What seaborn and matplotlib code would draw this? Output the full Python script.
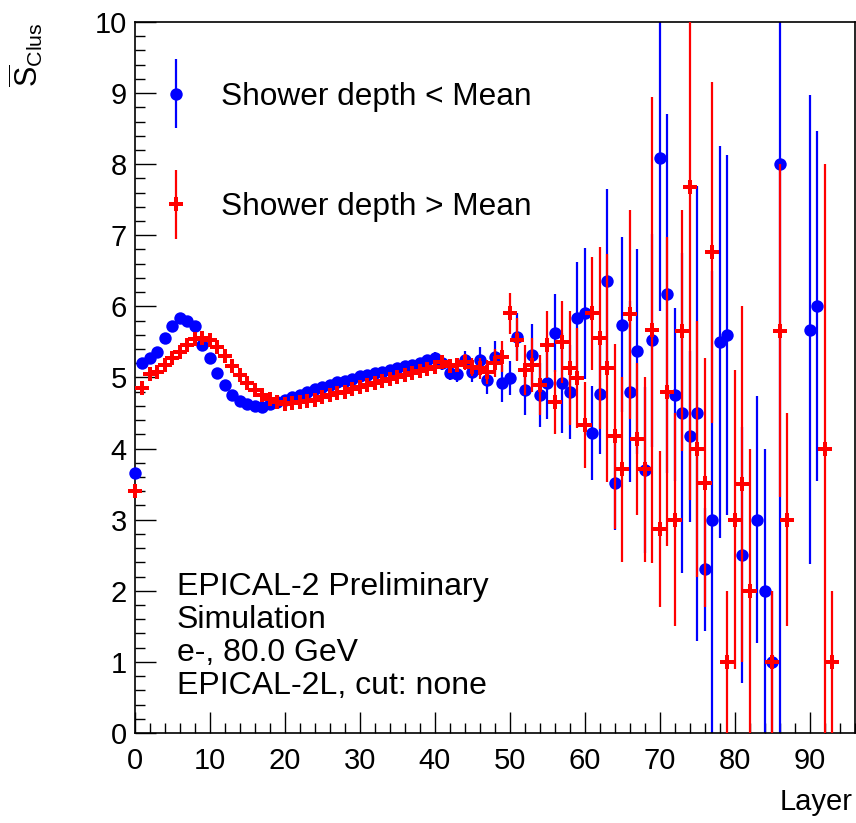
import numpy as np
import pandas as pd
import matplotlib
matplotlib.use("Agg")
import matplotlib.pyplot as plt
import seaborn as sns
from matplotlib.ticker import MultipleLocator
from matplotlib.legend_handler import HandlerErrorbar
from matplotlib.container import ErrorbarContainer

# ---- data: mean cluster size per layer ----
layers_lo = list(range(0, 80)) + [81, 83, 84, 85, 86, 90, 91]
mean_lo = [3.65, 5.20, 5.27, 5.36, 5.55, 5.72, 5.84, 5.80, 5.72, 5.46,
           5.27, 5.06, 4.90, 4.76, 4.67, 4.62, 4.60, 4.59, 4.62, 4.66,
           4.69, 4.72, 4.76, 4.80, 4.84, 4.87, 4.90, 4.93, 4.95, 4.98,
           5.02, 5.04, 5.06, 5.08, 5.10, 5.14, 5.16, 5.18, 5.20, 5.25,
           5.28, 5.20, 5.06, 5.05, 5.25, 5.08, 5.25, 4.97, 5.29, 4.92,
           4.99, 5.57, 4.82, 5.32, 4.75, 4.92, 5.62, 4.92, 4.80, 5.83,
           5.90, 4.22, 4.77, 6.35, 3.52, 5.74, 4.80, 5.37, 3.70, 5.52,
           8.08, 6.18, 4.76, 4.50, 4.17, 4.50, 2.30, 3.00, 5.50, 5.60,
           2.50, 3.00, 2.00, 1.00, 8.00, 5.67, 6.00]
err_lo = [0.02] * 30 + [0.03, 0.03, 0.04, 0.04, 0.05, 0.05, 0.06, 0.06, 0.07, 0.07,
                        0.08, 0.09, 0.10, 0.11, 0.12, 0.14, 0.18, 0.20, 0.22, 0.26,
                        0.24, 0.33, 0.35, 0.43, 0.45, 0.50, 0.55, 0.70, 0.66, 0.80,
                        0.92, 0.66, 0.85, 1.30, 0.66, 1.23, 1.27, 1.44, 1.17, 1.50,
                        2.15, 2.53, 1.22, 2.25, 1.20, 3.20, 0.87, 3.50, 2.76, 2.53,
                        1.80, 1.74, 2.00, 1.00, 8.00, 3.30, 2.46]

layers_hi = list(range(0, 78)) + [79, 80, 81, 82, 85, 86, 87, 92, 93]
mean_hi = [3.40, 4.85, 5.05, 5.08, 5.17, 5.27, 5.36, 5.46, 5.54, 5.56,
           5.52, 5.43, 5.30, 5.16, 5.04, 4.92, 4.82, 4.75, 4.70, 4.66,
           4.63, 4.64, 4.65, 4.67, 4.69, 4.72, 4.75, 4.78, 4.80, 4.84,
           4.87, 4.90, 4.92, 4.95, 4.98, 5.00, 5.03, 5.06, 5.09, 5.12,
           5.15, 5.22, 5.16, 5.18, 5.22, 5.15, 5.13, 5.08, 5.20, 5.29,
           5.90, 5.53, 5.10, 5.18, 4.89, 5.46, 4.66, 5.50, 5.13, 4.99,
           4.33, 5.90, 5.55, 5.13, 4.17, 3.71, 5.89, 4.14, 3.71, 5.67,
           2.87, 4.80, 3.00, 5.66, 7.68, 4.00, 3.52, 6.76,
           1.00, 3.00, 3.50, 2.00, 1.00, 5.66, 3.00, 4.00, 1.00]
err_hi = [0.02] * 30 + [0.03, 0.03, 0.04, 0.04, 0.05, 0.05, 0.06, 0.06, 0.07, 0.07,
                        0.07, 0.08, 0.09, 0.10, 0.11, 0.13, 0.15, 0.17, 0.20, 0.22,
                        0.29, 0.30, 0.35, 0.38, 0.42, 0.47, 0.45, 0.58, 0.80, 0.70,
                        0.60, 0.80, 1.28, 1.60, 1.30, 1.30, 1.47, 1.07, 1.30, 3.28,
                        1.10, 2.17, 1.50, 1.70, 4.40, 1.80, 1.75, 2.40,
                        1.00, 2.10, 2.50, 2.00, 1.00, 2.34, 1.50, 4.00, 1.00]

label_lo = "Shower depth < Mean"
label_hi = "Shower depth > Mean"
info_lines = ["EPICAL-2 Preliminary", "Simulation", "e-, 80.0 GeV", "EPICAL-2L, cut: none"]

df_lo = pd.DataFrame({"layer": layers_lo, "mean": mean_lo, "err": err_lo})
df_hi = pd.DataFrame({"layer": layers_hi, "mean": mean_hi, "err": err_hi})

# ---- style ----
sns.set_theme(style="white")
plt.rcParams["font.family"] = ["Liberation Sans", "DejaVu Sans"]
plt.rcParams["mathtext.fontset"] = "custom"
plt.rcParams["mathtext.rm"] = "Liberation Sans"
plt.rcParams["mathtext.it"] = "Liberation Sans:italic"
plt.rcParams["text.color"] = "black"
plt.rcParams["axes.labelcolor"] = "black"
plt.rcParams["legend.numpoints"] = 1

BLUE = "#0000ff"
RED = "#ff0000"
MS_LO, MS_HI = 80, 115

fig = plt.figure(figsize=(8.56, 8.23), dpi=100)
ax = fig.add_axes([0.1577, 0.1094, 0.8411, 0.8639])

# blue series: bars then markers
ax.errorbar(df_lo["layer"], df_lo["mean"], yerr=df_lo["err"], fmt="none",
            ecolor=BLUE, elinewidth=1.6, capsize=0, zorder=2)
sns.scatterplot(data=df_lo, x="layer", y="mean", ax=ax, color=BLUE, marker="o",
                s=MS_LO, linewidth=0, legend=False, zorder=3, clip_on=False)

# red series on top
ax.errorbar(df_hi["layer"], df_hi["mean"], yerr=df_hi["err"], fmt="none",
            ecolor=RED, elinewidth=1.6, capsize=0, zorder=4)
sns.scatterplot(data=df_hi, x="layer", y="mean", ax=ax, color=RED, marker="P",
                s=MS_HI, linewidth=0, legend=False, zorder=5, clip_on=False)

ax.set_xlim(0, 96)
ax.set_ylim(0, 10)

# ROOT-like axes
for sp in ax.spines.values():
    sp.set_color("black")
    sp.set_linewidth(1.2)
ax.xaxis.set_major_locator(MultipleLocator(10))
ax.xaxis.set_minor_locator(MultipleLocator(2))
ax.yaxis.set_major_locator(MultipleLocator(1))
ax.yaxis.set_minor_locator(MultipleLocator(0.2))
ax.tick_params(which="both", direction="in", top=False, right=False,
               left=True, bottom=True, colors="black", width=1.0, labelsize=21)
ax.tick_params(which="major", length=15)
ax.tick_params(which="minor", length=7)
ax.tick_params(axis="y", pad=6)
ax.tick_params(axis="x", pad=10)

ax.set_xlabel("Layer", fontsize=21)
ax.xaxis.set_label_coords(0.997, -0.078)
ax.xaxis.label.set_horizontalalignment("right")
ax.set_ylabel(r"$\overline{\mathrm{S}}_{\mathrm{Clus}}$", fontsize=22)
ax.yaxis.set_label_coords(-0.125, 1.0)
ax.yaxis.label.set_horizontalalignment("right")

# legend proxies (empty errorbar containers with markers)
h_lo = ax.errorbar([], [], yerr=[], fmt="o", color=BLUE, ms=np.sqrt(MS_LO),
                   mew=0, elinewidth=1.6, capsize=0)
h_hi = ax.errorbar([], [], yerr=[], fmt="P", color=RED, ms=np.sqrt(MS_HI),
                   mew=0, elinewidth=1.6, capsize=0)
ax.legend([h_lo, h_hi], [label_lo, label_hi],
          handler_map={ErrorbarContainer: HandlerErrorbar(xerr_size=0.5, yerr_size=1.08)},
          loc="upper left", bbox_to_anchor=(0.0125, 0.916), frameon=False,
          fontsize=22.8, handlelength=2.0, handletextpad=0.42, labelspacing=2.55,
          borderpad=0, borderaxespad=0)

# info text
for i, line in enumerate(info_lines):
    ax.text(0.058, 0.205 - i * 0.0465, line, transform=ax.transAxes,
            fontsize=23, ha="left", va="center")

fig.savefig("out.png", dpi=100)
